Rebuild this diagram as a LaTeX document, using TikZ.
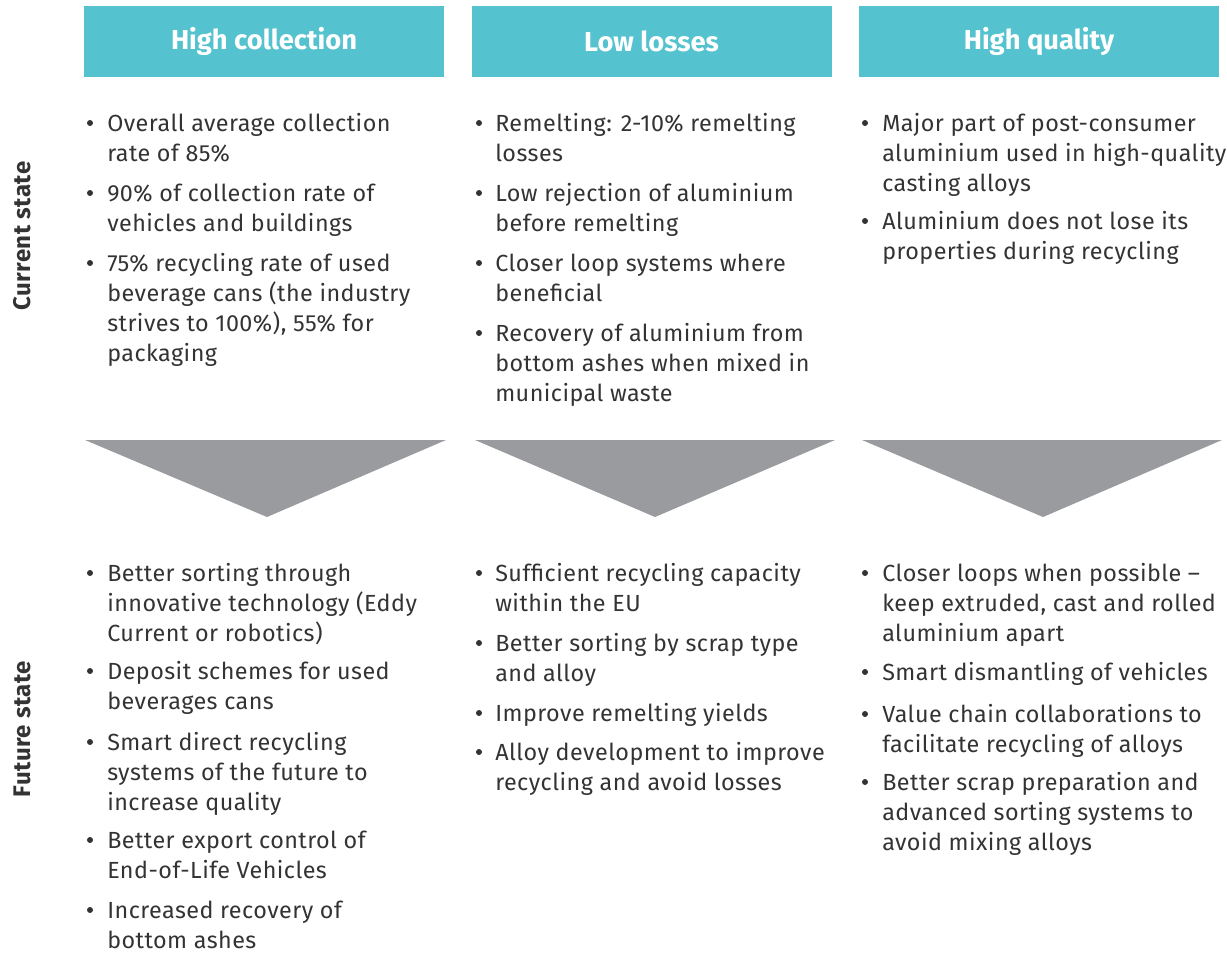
\documentclass[tikz,border=0pt]{standalone}
\usepackage{fontspec}
\setmainfont{Fira Sans}
\newfontfamily\bodyfont[LetterSpace=2]{Fira Sans}
\definecolor{headcol}{HTML}{55C3CF}
\definecolor{arrowgray}{HTML}{9A9B9F}
\definecolor{txt}{HTML}{333333}
\begin{document}
\begin{tikzpicture}[x=0.75pt,y=-0.75pt,
  head/.style={fill=headcol,text=white,inner sep=0,minimum width=270pt,minimum height=53.25pt,
    font=\fontsize{20.5}{24}\selectfont\bfseries},
  side/.style={rotate=90,text=txt,inner sep=0,font=\bodyfont\fontsize{18}{20}\selectfont\bfseries},
  item/.style={anchor=base west,align=left,inner sep=0,text=txt,
    font=\bodyfont\fontsize{17.5}{22.5}\selectfont},
  dot/.style={circle,fill=txt,inner sep=0,minimum size=4.5pt}]

  \useasboundingbox (0,0) rectangle (1227,953);

  % column heads
  \node[head] (h1) at (264,41.5) {High collection};
  \node[head] (h2) at (651.5,41.5) {Low losses};
  \node[head] (h3) at (1039,41.5) {High quality};

  % row labels
  \node[side] (now) at (22,236) {Current state};
  \node[side] (later) at (22,729) {Future state};

  % current state (placed at the baseline of the last line)
  \node[item] (c1a) at (107,161) {Overall average collection\\rate of 85\%};
  \node[item] (c1b) at (107,231) {90\% of collection rate of\\vehicles and buildings};
  \node[item] (c1c) at (107,361) {75\% recycling rate of used\\beverage cans (the industry\\strives to 100\%), 55\% for\\packaging};

  \node[item] (c2a) at (495,161) {Remelting: 2-10\% remelting\\losses};
  \node[item] (c2b) at (495,231) {Low rejection of aluminium\\before remelting};
  \node[item] (c2c) at (495,301) {Closer loop systems where\\beneficial};
  \node[item] (c2d) at (495,401) {Recovery of aluminium from\\bottom ashes when mixed in\\municipal waste};

  \node[item] (c3a) at (882,191) {Major part of post-consumer\\aluminium used in high-quality\\casting alloys};
  \node[item] (c3b) at (882,259) {Aluminium does not lose its\\properties during recycling};

  % arrows down
  \fill[arrowgray] (85,440) -- (446,440) -- (267,517) -- cycle;
  \fill[arrowgray] (475,440) -- (835,440) -- (655,517) -- cycle;
  \fill[arrowgray] (862,440) -- (1222,440) -- (1043,517) -- cycle;

  % future state
  \node[item] (f1a) at (107,641) {Better sorting through\\innovative technology (Eddy\\Current or robotics)};
  \node[item] (f1b) at (107,709) {Deposit schemes for used\\beverages cans};
  \node[item] (f1c) at (107,810) {Smart direct recycling\\systems of the future to\\increase quality};
  \node[item] (f1d) at (107,878) {Better export control of\\End-of-Life Vehicles};
  \node[item] (f1e) at (107,948) {Increased recovery of\\bottom ashes};

  \node[item] (f2a) at (495,611) {Sufficient recycling capacity\\within the EU};
  \node[item] (f2b) at (495,681) {Better sorting by scrap type\\and alloy};
  \node[item] (f2c) at (495,721) {Improve remelting yields};
  \node[item] (f2d) at (495,790) {Alloy development to improve\\recycling and avoid losses};

  \node[item] (f3a) at (882,641) {Closer loops when possible \textendash\\keep extruded, cast and rolled\\aluminium apart};
  \node[item] (f3b) at (882,680) {Smart dismantling of vehicles};
  \node[item] (f3c) at (882,752) {Value chain collaborations to\\facilitate recycling of alloys};
  \node[item] (f3d) at (882,850) {Better scrap preparation and\\advanced sorting systems to\\avoid mixing alloys};

  % bullets
  \foreach \n/\x/\y in {c1a/90/123,c1b/90/193,c1c/90/263,
      c2a/479/123,c2b/479/193,c2c/479/263,c2d/479/333,
      c3a/865/123,c3b/865/221,
      f1a/90/573,f1b/90/671,f1c/90/742,f1d/90/840,f1e/90/910,
      f2a/479/573,f2b/479/643,f2c/479/713,f2d/479/752,
      f3a/865/573,f3b/865/672,f3c/865/714,f3d/865/782}
    \node[dot] (d\n) at (\x,\y) {};
\end{tikzpicture}
\end{document}
